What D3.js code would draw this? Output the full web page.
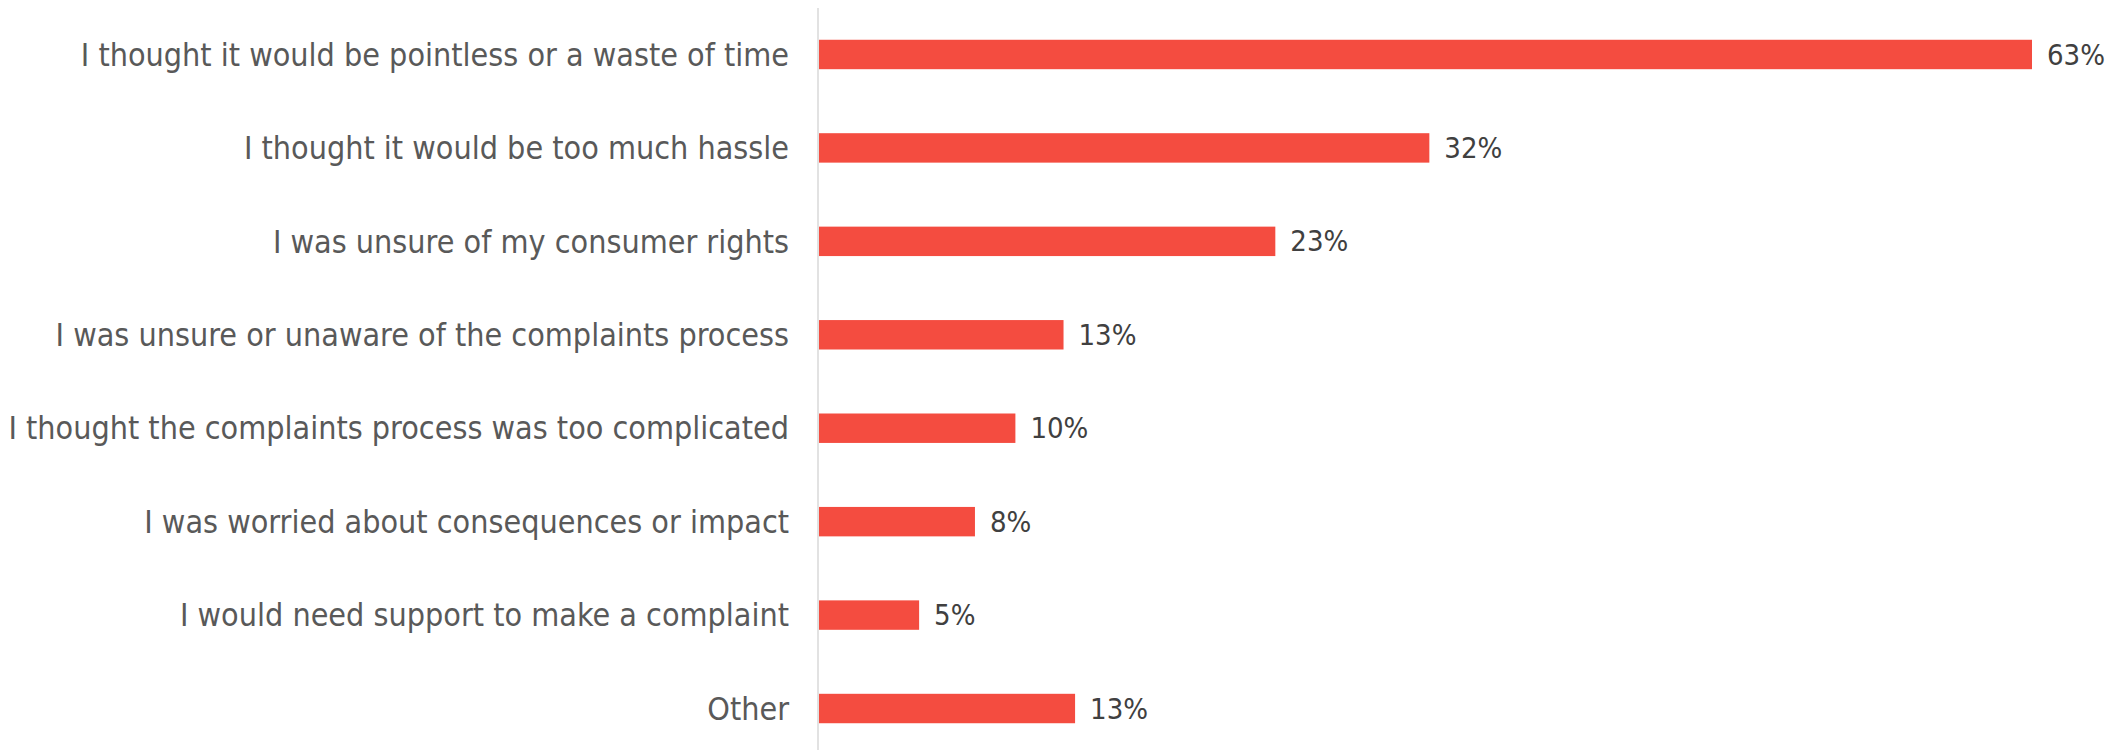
<!DOCTYPE html>
<html><head><meta charset="utf-8">
<script src="https://cdn.jsdelivr.net/npm/d3@7"></script>
<style>html,body{margin:0;padding:0;background:#fff;}svg{display:block;}</style>
</head><body><svg id="chart" width="2118" height="750"></svg>
<script>
const categories = [
  "I thought it would be pointless or a waste of time",
  "I thought it would be too much hassle",
  "I was unsure of my consumer rights",
  "I was unsure or unaware of the complaints process",
  "I thought the complaints process was too complicated",
  "I was worried about consequences or impact",
  "I would need support to make a complaint",
  "Other"
];
const values = [63, 31.7, 23.7, 12.7, 10.2, 8.1, 5.2, 13.3];
const valueLabels = ["63%", "32%", "23%", "13%", "10%", "8%", "5%", "13%"];

const svg = d3.select("#chart");
const x = d3.scaleLinear().domain([0, 63]).range([819, 2032]);
const y = d3.scaleBand().domain(categories).range([8, 755]).paddingInner(0.685).paddingOuter(0.34);

svg.append("line").attr("x1", 818).attr("x2", 818).attr("y1", 8).attr("y2", 750)
  .attr("stroke", "#d9d9d9").attr("stroke-width", 1.5);

const data = categories.map((c, i) => ({c, v: values[i], l: valueLabels[i]}));

svg.selectAll("rect.bar").data(data).join("rect").attr("class", "bar")
  .attr("x", x(0)).attr("y", d => y(d.c)).attr("width", d => x(d.v) - x(0))
  .attr("height", y.bandwidth()).attr("fill", "#f44c40");

svg.selectAll("text.cat").data(data).join("text").attr("class", "cat")
  .attr("x", 789).attr("y", d => y(d.c) + y.bandwidth() / 2).attr("dy", "0.35em")
  .attr("text-anchor", "end").attr("fill", "#595959")
  .style("font-family", "'Liberation Sans Narrow','DejaVu Sans Condensed',sans-serif").style("font-size", "32px")
  .text(d => d.c);

svg.selectAll("text.val").data(data).join("text").attr("class", "val")
  .attr("x", d => x(d.v) + 15).attr("y", d => y(d.c) + y.bandwidth() / 2).attr("dy", "0.35em")
  .attr("fill", "#404040")
  .style("font-family", "'Liberation Sans Narrow','DejaVu Sans Condensed',sans-serif").style("font-size", "29px")
  .text(d => d.l);
</script></body></html>
